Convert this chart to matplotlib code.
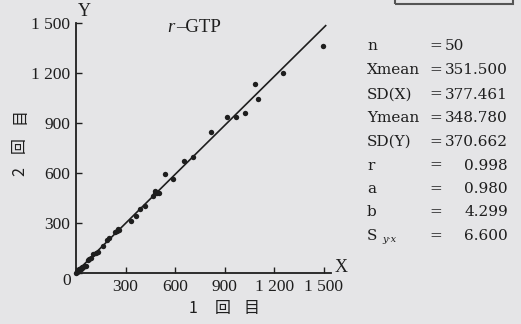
import matplotlib
matplotlib.use("Agg")
import matplotlib.pyplot as plt
from matplotlib.patches import Rectangle

# First-run (X) vs second-run (Y) measurements
x_run1 = [2, 5, 6, 10, 12, 15, 18, 20, 22, 28, 30, 35, 37, 44, 52, 60,
          72, 80, 88, 105, 120, 135, 165, 185, 200, 238, 246, 252, 258,
          330, 360, 387, 420, 465, 475, 480, 490, 500, 538, 588, 656, 705,
          815, 916, 970, 1025, 1080, 1100, 1250, 1495]
y_run2 = [3, 8, 9, 12, 10, 18, 16, 22, 24, 26, 32, 30, 34, 36, 40, 44,
          76, 84, 90, 112, 118, 128, 160, 198, 212, 244, 250, 262, 258,
          312, 340, 382, 402, 462, 482, 490, 478, 480, 594, 562, 674, 698,
          844, 936, 938, 962, 1135, 1045, 1200, 1360]

# Regression y = a*x + b
slope_a = 0.980
intercept_b = 4.299
fit_x = [0, 1510]

ticks = [0, 300, 600, 900, 1200, 1500]
tick_labels = ["0", "300", "600", "900", "1 200", "1 500"]

stat_names = ["n", "Xmean", "SD(X)", "Ymean", "SD(Y)", "r", "a", "b"]
stat_values = ["50", "351.500", "377.461", "348.780", "370.662",
               "0.998", "0.980", "4.299"]
syx_value = "6.600"

ink = "#1e1e1e"
bg = "#e5e5e7"
serif = ["Liberation Serif", "DejaVu Serif"]
wide_serif = ["DejaVu Serif"]
cjk = ["Noto Sans CJK JP", "DejaVu Sans"]

W, H = 521, 324
fig = plt.figure(figsize=(W / 100, H / 100), dpi=100, facecolor=bg)
ax = fig.add_axes([76 / W, (H - 273) / H, (324 - 76) / W, (273 - 23) / H])
ax.set_facecolor(bg)

fy = [slope_a * v + intercept_b for v in fit_x]
ax.plot(fit_x, fy, color=ink, lw=1.2, zorder=2, clip_on=False)
ax.scatter(x_run1, y_run2, s=15, color=ink, zorder=3, linewidths=0,
           clip_on=False)

ax.set_xlim(0, 1500)
ax.set_ylim(0, 1500)
for s in ["top", "right"]:
    ax.spines[s].set_visible(False)
for s in ["left", "bottom"]:
    ax.spines[s].set_color(ink)
    ax.spines[s].set_linewidth(1.3)
ax.spines["bottom"].set_bounds(0, 1540)

ax.set_xticks(ticks)
ax.set_xticklabels([""] + tick_labels[1:])
ax.set_yticks(ticks)
ax.set_yticklabels([""] + tick_labels[1:])
ax.tick_params(direction="in", length=4, width=1, color=ink, labelcolor=ink,
               labelsize=12.5, pad=4)
for lab in ax.get_xticklabels() + ax.get_yticklabels():
    lab.set_fontfamily(serif)

def fig_text(px, py, s, **kw):
    kw.setdefault("color", ink)
    kw.setdefault("family", serif)
    fig.text(px / W, 1 - py / H, s, **kw)

fig_text(67, 281, "0", fontsize=12.5, ha="center", va="center")
fig_text(84, 12, "Y", fontsize=13, ha="center", va="center")
fig_text(341, 268, "X", fontsize=13, ha="center", va="center")

# Title: italic r followed by –GTP
fig_text(171, 27, "r", fontsize=13.5, ha="center", va="center", style="italic")
fig_text(176, 27, "–GTP", fontsize=13.5, ha="left", va="center")

# Axis labels, one glyph at a time on a shared baseline
for cx, ch in zip([193, 223, 251], ["1", "回", "目"]):
    fig_text(cx, 313, ch, fontsize=11.5, ha="center", va="baseline", family=cjk)
for cy, ch in zip([172, 145, 116], ["2", "回", "目"]):
    fig_text(24, cy, ch, fontsize=11.5, ha="center", va="baseline",
             family=cjk, rotation=90, rotation_mode="anchor")

# Statistics block
row_y = [46.5, 70.5, 94.5, 118, 142, 165.5, 189, 212.5]
for i, (name, val) in enumerate(zip(stat_names, stat_values)):
    fig_text(367, row_y[i], name, fontsize=11, ha="left", va="center",
             family=wide_serif)
    fig_text(436, row_y[i], "=", fontsize=11, ha="center", va="center",
             family=wide_serif)
    if i == 0:
        fig_text(445, row_y[i], val, fontsize=11, ha="left", va="center",
                 family=wide_serif)
    else:
        fig_text(508, row_y[i], val, fontsize=11, ha="right", va="center",
                 family=wide_serif)
fig_text(367, 236.5, "S", fontsize=11, ha="left", va="center", family=wide_serif)
fig_text(382, 239, "y·x", fontsize=7, ha="left", va="center", style="italic",
         family=wide_serif)
fig_text(436, 236.5, "=", fontsize=11, ha="center", va="center", family=wide_serif)
fig_text(508, 236.5, syx_value, fontsize=11, ha="right", va="center",
         family=wide_serif)

# Framed box at the top-right edge
fig.patches.append(Rectangle((395 / W, 1 - 4 / H), (513 - 395) / W, 10 / H,
                             transform=fig.transFigure, fill=False,
                             edgecolor="#555555", lw=1.5))

fig.savefig("out.png", dpi=100, facecolor=bg)
